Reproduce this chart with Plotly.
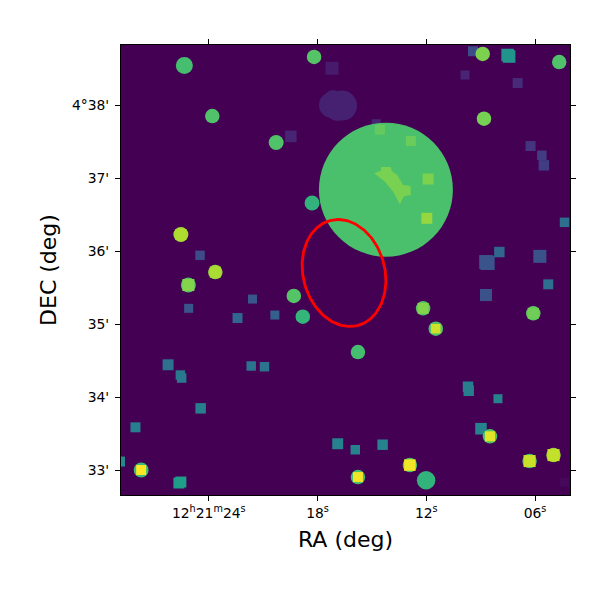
import numpy as np
import plotly.graph_objects as go

# sky positions: seconds of RA past 12h21m, arcmin of DEC past 4 deg
circle_ra = [25.349, 18.193, 23.807, 20.284, 18.303, 25.541, 25.128, 23.642, 19.310, 18.815,
             27.732, 14.229, 8.890, 4.668, 8.818, 12.176, 11.477, 6.099, 15.771, 8.488,
             12.908, 15.771, 12.011, 6.303, 4.982, 16.651, 17.202, 17.147, 16.927]
circle_dec = [38.541, 38.658, 37.849, 37.486, 36.658, 36.226, 35.534, 35.712, 35.384, 35.100,
              33.000, 36.840, 38.699, 38.589, 37.812, 35.215, 34.936, 35.147, 34.616, 33.462,
              33.068, 32.904, 32.859, 33.123, 33.205, 37.993, 38.000, 38.082, 37.918]
circle_radius = [6.99, 5.96, 5.96, 6.16, 6.16, 6.16, 6.16, 5.96, 5.96, 5.96,
                 6.16, 55.07, 5.96, 5.96, 5.96, 5.96, 5.96, 5.96, 5.96, 5.96,
                 5.96, 5.96, 7.6, 5.96, 5.96, 12.33, 10.7, 7.4, 8.22]
circle_value = [.70, .73, .72, .72, .65, .87, .72, .85, .73, .66,
                .68, .71, .80, .72, .79, .72, .72, .75, .70, .72,
                .70, .70, .65, .70, .85, .09, .09, .09, .09]

faint_ra = [17.202, 19.475, 24.484, 25.112, 21.589, 22.415, 20.356, 26.246, 21.661, 20.928,
            25.569, 25.497, 24.451, 28.046, 16.888, 28.899, 25.651, 25.541, 14.763, 9.424,
            7.514, 7.431, 9.864, 6.963, 6.248, 5.626, 5.515, 4.376, 7.971, 8.697,
            8.615, 5.736, 5.273, 8.708, 9.699, 9.661, 8.048, 8.984, 14.411, 15.919, 4.376]
faint_dec = [38.503, 37.571, 35.941, 35.215, 35.342, 35.082, 35.123, 34.442, 34.425, 34.415,
             34.301, 34.260, 33.845, 33.585, 33.360, 33.116, 32.822, 32.836, 37.744, 38.736,
             38.685, 38.664, 38.411, 38.301, 37.438, 37.311, 37.174, 36.393, 35.986, 35.849,
             35.836, 35.927, 35.544, 35.397, 34.141, 34.086, 33.977, 33.566, 33.347, 33.278, 32.832]
faint_width = [10.7, 9.5, 7.8, 7.4, 7.4, 8.2, 7.4, 9.0, 7.8, 7.8,
               7.8, 7.8, 8.6, 8.2, 9.0, 8.2, 9.0, 9.0, 7.4, 8.2,
               10.3, 10.3, 7.4, 8.2, 8.2, 7.8, 8.6, 7.8, 8.6, 11.5,
               11.5, 10.7, 8.2, 9.9, 8.6, 8.6, 7.4, 9.5, 8.6, 7.8, 7.4]
faint_value = [.07, .10, .23, .27, .27, .33, .30, .37, .38, .38,
               .40, .40, .43, .43, .45, .47, .55, .55, .10, .23,
               .52, .52, .10, .12, .15, .18, .18, .36, .33, .26,
               .26, .25, .36, .25, .43, .43, .45, .45, .45, .45, .02]

bright_ra = [14.560, 12.853, 11.901, 11.972, 25.128, 23.642, 12.176, 11.477, 6.099, 8.488,
             12.908, 15.771, 6.303, 4.982, 27.732, 25.541]
bright_dec = [37.662, 37.507, 36.986, 36.448, 35.534, 35.712, 35.215, 34.936, 35.147, 33.462,
              33.068, 32.904, 33.123, 33.205, 33.000, 36.226]
bright_width = [8.2, 8.2, 9.0, 9.0, 9.9, 9.0, 9.0, 7.8, 9.0, 8.2,
                9.5, 8.2, 9.9, 9.9, 8.2, 9.0]
bright_value = [.76, .77, .80, .84, .81, .87, .81, .93, .78, .96,
                .98, .98, .92, .91, 1.0, .88]

arc_ra = [14.873, 14.521, 14.488, 13.971, 13.899, 13.607, 13.277, 12.870, 12.853, 13.239,
          13.459, 13.827, 14.284, 14.873]
arc_dec = [37.064, 37.096, 37.151, 37.151, 37.096, 37.041, 36.904, 36.890, 36.767, 36.749,
           36.640, 36.812, 36.949, 37.064]

# red region, PA measured north through east
region_ra = 16.541
region_dec = 35.699
region_major = 44.6
region_minor = 33.7
region_pa = 15.0

ra_tickvals = [24, 18, 12, 6]
ra_ticktext = ["12<sup>h</sup>21<sup>m</sup>24<sup>s</sup>", "18<sup>s</sup>", "12<sup>s</sup>", "06<sup>s</sup>"]
dec_tickvals = [38, 37, 36, 35, 34, 33]
dec_ticktext = ["4°38'", "37'", "36'", "35'", "34'", "33'"]

PX_PER_ARCSEC = 73 / 60


def marker_trace(ra, dec, size_arcsec, value, symbol):
    return go.Scatter(
        x=ra, y=dec, mode="markers",
        marker=dict(symbol=symbol, size=np.array(size_arcsec) * PX_PER_ARCSEC, color=value,
                    colorscale="Viridis", cmin=0, cmax=1, opacity=1, line_width=0),
        hoverinfo="skip",
    )


fig = go.Figure()
fig.add_trace(marker_trace(faint_ra, faint_dec, faint_width, faint_value, "square"))
fig.add_trace(marker_trace(circle_ra, circle_dec, np.array(circle_radius) * 2, circle_value, "circle"))
fig.add_trace(go.Scatter(x=arc_ra, y=arc_dec, mode="lines", fill="toself", fillcolor="#78d151",
                         line=dict(width=0, color="#78d151")))
fig.add_trace(marker_trace(bright_ra, bright_dec, bright_width, bright_value, "square"))

# outline of the region
t = np.linspace(0, 2 * np.pi, 200)
pa = np.radians(region_pa)
north = region_major * np.cos(t) * np.cos(pa) - region_minor * np.sin(t) * np.sin(pa)
east = region_major * np.cos(t) * np.sin(pa) + region_minor * np.sin(t) * np.cos(pa)
fig.add_trace(go.Scatter(x=region_ra + east / (15 * np.cos(np.radians(4.6))), y=region_dec + north / 60,
                         mode="lines", line=dict(color="red", width=2.8)))

axis_style = dict(showgrid=False, zeroline=False, showline=True, linecolor="black", linewidth=1.1,
                  mirror="ticks", ticks="outside", ticklen=5, tickwidth=1.1, tickcolor="black",
                  tickfont=dict(size=13.9, color="black"))

fig.update_xaxes(range=[28.844, 4.073], tickmode="array", tickvals=ra_tickvals, ticktext=ra_ticktext,
                 title=dict(text="RA (deg)", font=dict(size=22, color="black"), standoff=11), **axis_style)
fig.update_yaxes(range=[32.658, 38.822], tickmode="array", tickvals=dec_tickvals, ticktext=dec_ticktext,
                 ticklabelstandoff=3,
                 title=dict(text="DEC (deg)", font=dict(size=22, color="black"), standoff=9), **axis_style)

# page body adds 8px around the figure
fig.update_layout(width=584, height=584, autosize=False, showlegend=False,
                  margin=dict(l=112.5, r=21.5, t=37, b=97, pad=0),
                  paper_bgcolor="white", plot_bgcolor="#440154",
                  font=dict(family="DejaVu Sans", color="black"))

fig.write_html("out.html")
